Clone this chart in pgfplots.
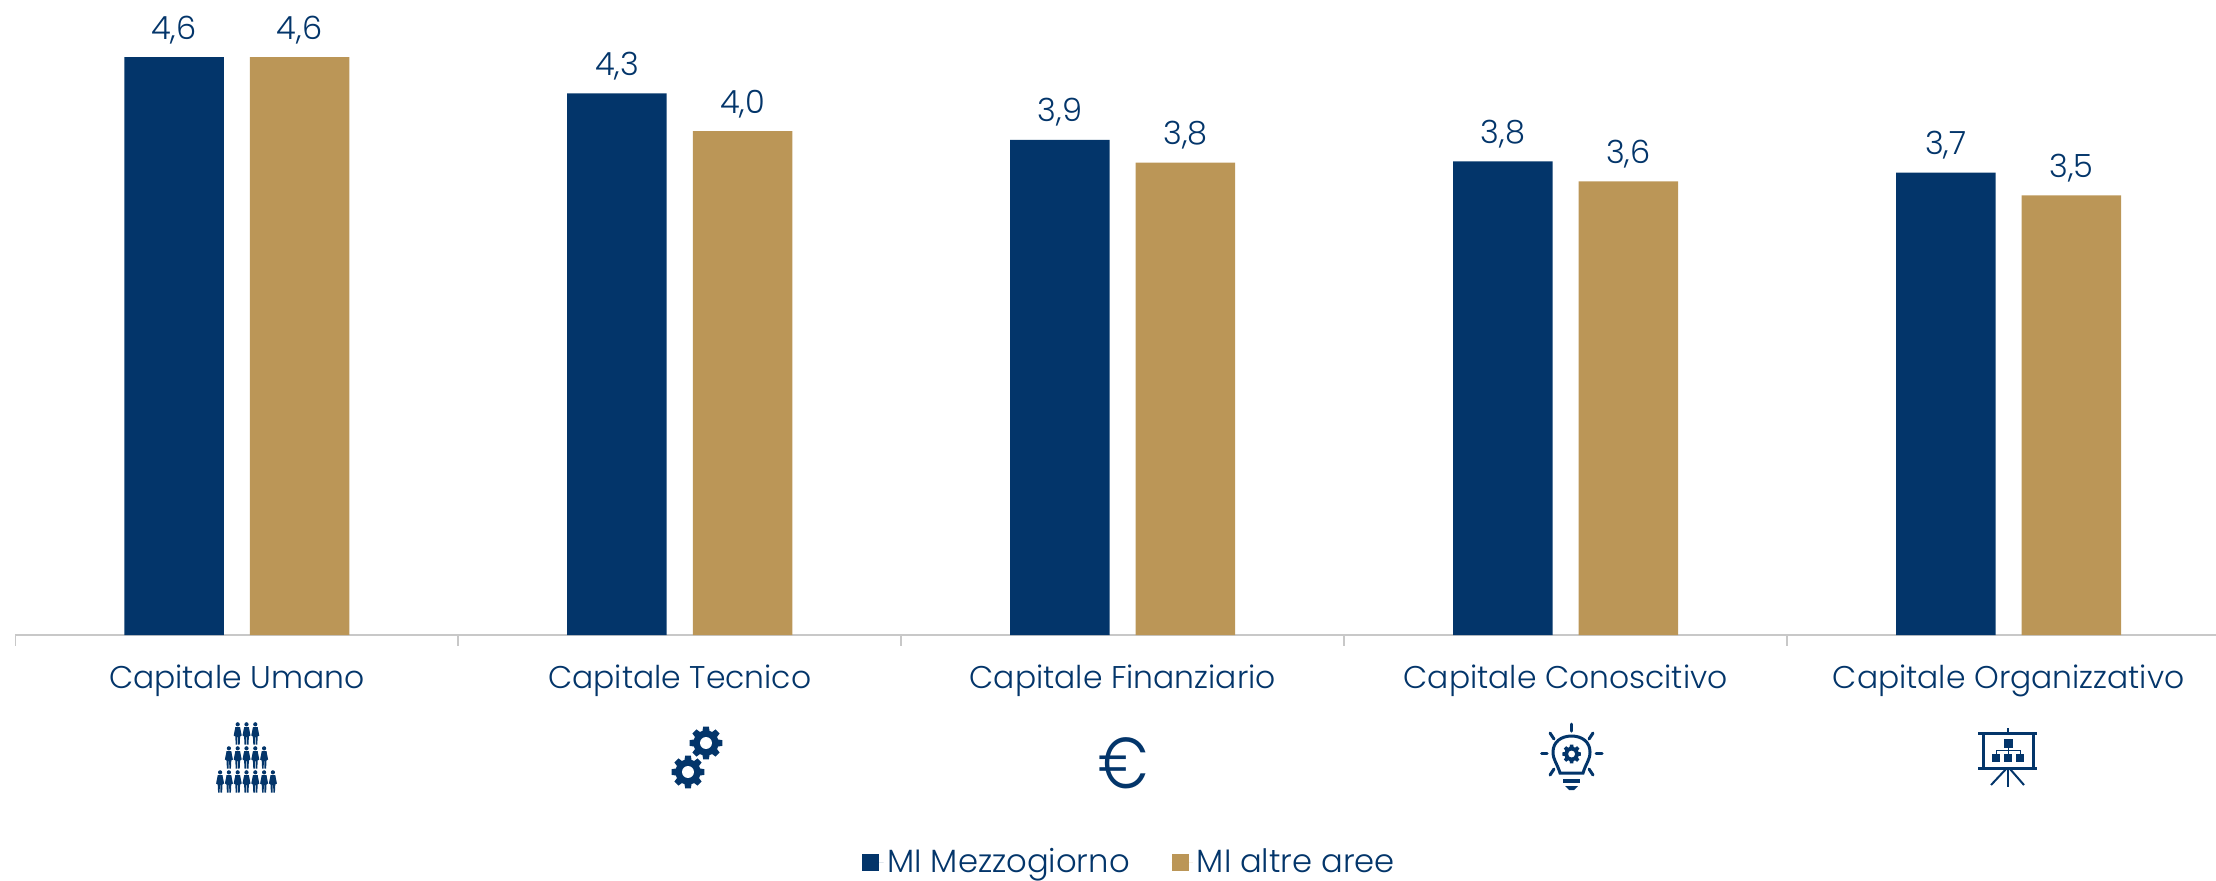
\documentclass[border=0pt]{standalone}
\usepackage{pgfplots}
\pgfplotsset{compat=1.18}
\usepackage{fontspec}
\setmainfont{Poppins}[UprightFont=* Light]
\definecolor{navy}{HTML}{03356A}
\definecolor{gold}{HTML}{BB9657}
\definecolor{axisgrey}{HTML}{C8C8C8}
\newcommand{\gear}[4]{%
  \begin{scope}[shift={(#1,#2)},rotate=#4]
  \fill[navy] (-10:#3)
    \foreach \a in {0,45,...,315}{
      -- (\a-10:#3) -- (\a+10:#3) -- (\a+16:#3*0.76) -- (\a+29:#3*0.76)
    } -- cycle;
  \fill[white] (0,0) circle[radius=#3*0.36];
  \end{scope}}
\newcommand{\person}[2]{%
  \begin{scope}[shift={(#1,#2)}]
  \fill[navy] (0,2.3) circle[radius=2.1];
  \fill[navy] (-2.4,5.2) -- (2.4,5.2) -- (4.0,13.5) -- (2.4,14.5) -- (2.0,22.5) -- (0.4,22.5) -- (0.3,15) -- (-0.3,15) -- (-0.4,22.5) -- (-2.0,22.5) -- (-2.4,14.5) -- (-4.0,13.5) -- cycle;
  \end{scope}}
\begin{document}
\begin{tikzpicture}
\path[use as bounding box] (0,0) rectangle (1108pt,-440pt);
\begin{axis}[
  at={(7.65pt,-317.5pt)}, anchor=south west,
  scale only axis, width=1100.35pt, height=317.5pt,
  xmin=-0.5, xmax=4.468, ymin=0, ymax=5.054,
  clip=false,
  axis y line=none, axis x line*=bottom,
  axis line style={axisgrey,line width=1.3pt,-},
  xtick={0,1,2,3,4},
  xticklabels={Capitale Umano,Capitale Tecnico,Capitale Finanziario,Capitale Conoscitivo,Capitale Organizzativo},
  major tick length=0pt,
  xticklabel style={anchor=base,yshift=-26.5pt,font=\fontsize{15.7}{18}\selectfont,text=navy},
  extra x ticks={-0.5,0.5,1.5,2.5,3.5},
  extra x tick labels={},
  extra x tick style={major tick length=5.3pt,major tick style={axisgrey,line width=0.8pt}},
  ybar, bar width=0.2246,
  nodes near coords,
  point meta=explicit,
  nodes near coords style={anchor=base,yshift=9pt,text=navy,font=\fontsize{16}{18}\selectfont,/pgf/number format/.cd,fixed,fixed zerofill,precision=1,use comma,assume math mode=true},
  legend columns=2,
  legend style={at={(0.5068,-0.358)},anchor=center,draw=none,fill=none,font=\fontsize{16.1}{18}\selectfont,text=navy,/tikz/every even column/.append style={column sep=19pt}},
  legend image code/.code={\fill[#1] (0pt,-4.25pt) rectangle (8.5pt,4.25pt);\path (0pt,0pt) -- (10.6pt,0pt);},
]
\addplot[bar shift=-0.1417,fill=navy,draw=none] coordinates {
  (0,4.60) [4.6] (1,4.31) [4.3] (2,3.94) [3.9] (3,3.77) [3.8] (4,3.68) [3.7]};
\addlegendentry{MI Mezzogiorno}
\addplot[bar shift=0.1417,fill=gold,draw=none] coordinates {
  (0,4.60) [4.6] (1,4.01) [4.0] (2,3.76) [3.8] (3,3.61) [3.6] (4,3.50) [3.5]};
\addlegendentry{MI altre aree}
\end{axis}
\begin{scope}[x=0.5pt,y=-0.5pt]
  % people pyramid
  \foreach \i in {-1,0,1}{\person{246.5+\i*8.8}{722}}
  \foreach \i in {-2,...,2}{\person{246.5+\i*8.8}{746}}
  \foreach \i in {-3,...,3}{\person{246.5+\i*8.8}{770}}
  % gears
  \gear{706}{743}{16.6}{0}
  \gear{688}{772}{16.6}{0}
  % euro
  \node[text=navy,font=\fontsize{36}{40}\selectfont,inner sep=0pt,xscale=0.85] at (1123.5,763) {€};
  % bulb
  \begin{scope}[navy,line cap=round,line width=1.5pt]
    \draw (1571.6,724) -- (1571.6,731);
    \draw (1541.5,753.5) -- (1547,753.5);
    \draw (1596,753.5) -- (1602,753.5);
    \draw (1550,733) -- (1554,739);
    \draw (1593,733) -- (1589,739);
    \draw (1550,775) -- (1554,769);
    \draw (1593,775) -- (1589,769);
    \draw[line width=1.5pt] (1560,773) .. controls (1557,763) and (1553,760) .. (1553,752)
       .. controls (1553,742) and (1561,736) .. (1571.6,736)
       .. controls (1582,736) and (1590,742) .. (1590,752)
       .. controls (1590,760) and (1586,763) .. (1583,773) -- cycle;
    \draw[line width=2pt,line cap=butt] (1563,781) -- (1580,781);
    \fill (1565,786) -- (1578,786) -- (1574,790) -- (1569,790) -- cycle;
  \end{scope}
  \gear{1571.6}{754}{9.5}{0}
  % board
  \begin{scope}[navy]
    \draw[line width=1.5pt] (1978,733) -- (2037,733);
    \draw[line width=1.5pt] (1978,768) -- (2037,768);
    \draw[line width=1.2pt] (2008,728) -- (2008,733);
    \draw[line width=1.5pt] (1983,733) -- (1983,768);
    \draw[line width=1.5pt] (2033,733) -- (2033,768);
    \draw[line width=1pt] (2008,769) -- (2008,787);
    \draw[line width=1pt] (2006,769) -- (1991,785);
    \draw[line width=1pt] (2010,769) -- (2024,785);
    \fill (2003.5,738.5) rectangle (2012.5,747.5);
    \fill (1992,754) rectangle (2000,762);
    \fill (2004,754) rectangle (2012,762);
    \fill (2016,754) rectangle (2024,762);
    \draw[line width=0.5pt] (2008,747) -- (2008,754) (1996,754) -- (1996,750.5) -- (2020,750.5) -- (2020,754);
  \end{scope}
\end{scope}
\end{tikzpicture}
\end{document}
